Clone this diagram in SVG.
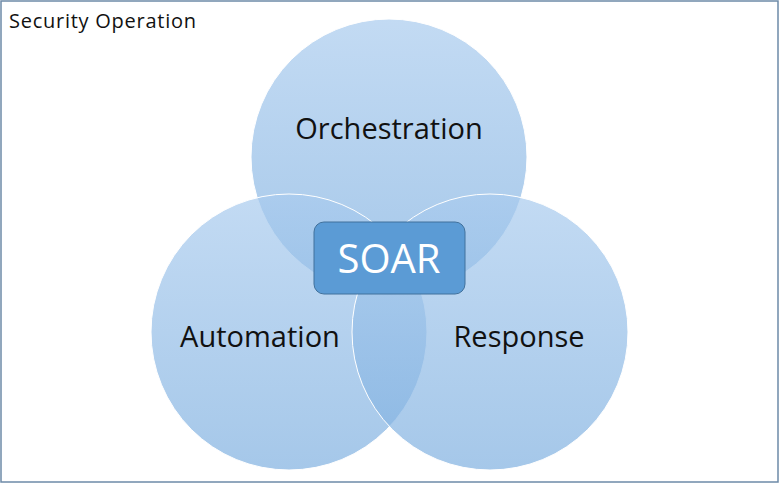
<svg xmlns="http://www.w3.org/2000/svg" width="780" height="484" viewBox="0 0 780 484">
<defs><linearGradient id="g" x1="0" y1="0" x2="0" y2="1"><stop offset="0" stop-color="#a9cbee"/><stop offset="1" stop-color="#7fb0e0"/></linearGradient></defs>
<style>
.c{fill:url(#g);fill-opacity:0.7;stroke:#ffffff;stroke-width:1}
.t{font-family:"Open Sans","Liberation Sans",sans-serif;fill:#111}
</style>
<rect x="0" y="0" width="780" height="484" fill="#fff"/>
<rect x="1" y="1" width="777" height="481" fill="none" stroke="#6d8aa8" stroke-width="1.5"/>
<text class="t" x="9" y="28" font-size="20" textLength="187">Security Operation</text>
<g id="orchestration"><circle class="c" cx="389" cy="157" r="138"/><text class="t" x="389" y="139" font-size="29" text-anchor="middle">Orchestration</text></g>
<g id="automation"><circle class="c" cx="289" cy="332" r="138"/><text class="t" x="260" y="347" font-size="29" text-anchor="middle">Automation</text></g>
<g id="response"><circle class="c" cx="490" cy="332" r="138"/><text class="t" x="519" y="347" font-size="29" text-anchor="middle">Response</text></g>
<g id="connectors"></g>
<g id="soar"><rect x="314" y="222" width="151" height="72" rx="10" fill="#5b9bd5" stroke="#41719c" stroke-width="1"/><text x="389" y="273" font-size="40" text-anchor="middle" fill="#fff" font-family="Open Sans,Liberation Sans,sans-serif">SOAR</text></g>
</svg>
